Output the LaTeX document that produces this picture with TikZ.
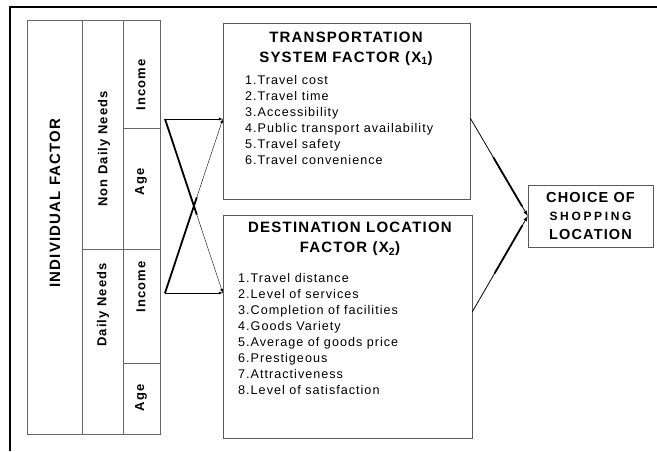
\documentclass[tikz,border=0pt]{standalone}
\usepackage{fontspec}
\setmainfont{Liberation Sans}
\newfontfamily\wide[LetterSpace=8]{Liberation Sans}
\usetikzlibrary{calc}

\tikzset{
  cell/.style={font=\wide\bfseries\fontsize{13}{13}\selectfont, rotate=90, inner sep=0},
  factorbox/.style={draw=black!65, thin, inner sep=0},
  boxtitle/.style={font=\wide\bfseries\fontsize{15}{20}\selectfont, align=center, inner sep=0},
  itemlist/.style={font=\wide\fontsize{12.6}{16}\selectfont, align=left, inner sep=0},
  taper/.style={line width=1.8}
}

\begin{document}
\begin{tikzpicture}[x=1pt,y=-1pt]
  \useasboundingbox (0,0) rectangle (657,451);
  \draw[line width=1.6] (10,451) -- (10,7) -- (657,7);

  % individual factor table
  \draw[black!60] (27,20) rectangle (160,434);
  \draw[black!60] (82,20) -- (82,434) (123,20) -- (123,434);
  \draw[black!60] (82,249) -- (160,249) (123,128) -- (160,128) (123,363) -- (160,363);
  \node[cell, font=\wide\bfseries\fontsize{15}{15}\selectfont] (indiv) at (55,203) {INDIVIDUAL FACTOR};
  \node[cell] (nondaily) at (104,149) {Non Daily Needs};
  \node[cell] (daily) at (103,305) {Daily Needs};
  \node[cell] (inc1) at (141,85) {Income};
  \node[cell] (age1) at (141,182) {Age};
  \node[cell] (inc2) at (141,287) {Income};
  \node[cell] (age2) at (141,398) {Age};

  % factor boxes
  \node[factorbox, minimum width=247, minimum height=176] (tsf) at (346.5,111) {};
  \node[boxtitle, anchor=north] (tsftitle) at (346,32) {TRANSPORTATION\\SYSTEM FACTOR (X\textsubscript{1})};
  \node[itemlist, anchor=north west] (tsflist) at (245,75) {1.Travel cost\\2.Travel time\\3.Accessibility\\4.Public transport availability\\5.Travel safety\\6.Travel convenience};

  \node[factorbox, minimum width=249, minimum height=223] (dlf) at (347.5,326.5) {};
  \node[boxtitle, anchor=north] (dlftitle) at (350,222) {DESTINATION LOCATION\\FACTOR (X\textsubscript{2})};
  \node[itemlist, anchor=north west] (dlflist) at (238,273) {1.Travel distance\\2.Level of services\\3.Completion of facilities\\4.Goods Variety\\5.Average of goods price\\6.Prestigeous\\7.Attractiveness\\8.Level of satisfaction};

  \node[factorbox, minimum width=125, minimum height=62, align=center,
        font=\wide\bfseries\fontsize{14.5}{18.5}\selectfont] (choice) at (590.5,216)
        {CHOICE OF\\{\addfontfeature{LetterSpace=22}\fontsize{12}{18.5}\selectfont SHOPPING}\\LOCATION};

  % arrows
  \coordinate (ia) at (165,119);
  \coordinate (ib) at (165,293);
  \draw[-latex] (ia) -- (tsf.west |- ia);
  \draw[-latex] (ib) -- (dlf.west |- ib);
  \draw[-latex] (ia) -- (dlf.west |- ib);
  \draw[-latex] (ib) -- (tsf.west |- ia);
  \draw[taper] (ia) -- ($(ia)!0.55!(dlf.west |- ib)$);
  \draw[taper] (ib) -- ($(ib)!0.55!(tsf.west |- ia)$);

  \draw[-latex, thick] ([yshift=-7]tsf.east) -- (choice.west);
  \draw[-latex, thick] ([yshift=14.5]dlf.east) -- (choice.west);
  \draw[taper] ($([yshift=-7]tsf.east)!0.4!(choice.west)$) -- ($([yshift=-7]tsf.east)!0.9!(choice.west)$);
  \draw[taper] ($([yshift=14.5]dlf.east)!0.4!(choice.west)$) -- ($([yshift=14.5]dlf.east)!0.9!(choice.west)$);
\end{tikzpicture}
\end{document}
